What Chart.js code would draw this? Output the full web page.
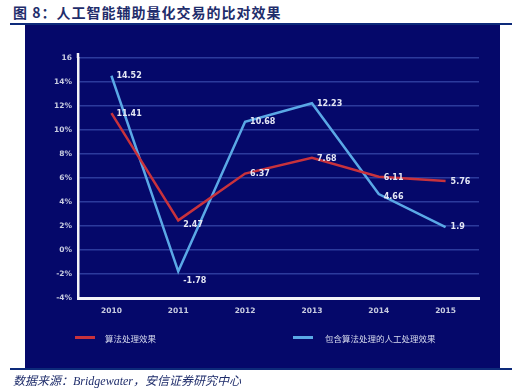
<!DOCTYPE html>
<html>
<head>
<meta charset="utf-8">
<script src="https://cdn.jsdelivr.net/npm/chart.js@4.4.0/dist/chart.umd.min.js"></script>
<style>
body{margin:0;width:532px;height:392px;background:#fff;position:relative;overflow:hidden;font-family:"Noto Sans CJK SC",sans-serif;}
#title{position:absolute;left:13px;top:2px;font-size:14px;font-weight:bold;color:#1f2d6b;letter-spacing:1px;white-space:nowrap;}
.rule{position:absolute;left:10px;width:502px;height:2px;background:#0d2a7a;}
#panel{position:absolute;left:25px;top:25px;width:475px;height:344px;background:#05086a;}
#chartBox{position:absolute;left:0;top:0;width:475px;height:344px;}
.leg{position:absolute;top:332px;font-size:8.5px;color:#d8dcef;white-space:nowrap;}
.legLine{position:absolute;top:336px;width:20px;height:3px;}
#source{position:absolute;left:13px;top:371px;font-size:12px;font-style:italic;color:#1f2d6b;font-family:"Liberation Serif","Noto Sans CJK SC",serif;white-space:nowrap;}
</style>
</head>
<body>
<div id="title">图 8：人工智能辅助量化交易的比对效果</div>
<div class="rule" style="top:23px"></div>
<div id="panel">
  <div id="chartBox"><canvas id="trendChart" width="475" height="344"></canvas></div>
</div>
<div class="legLine" style="left:75px;background:#c8323c"></div>
<div class="leg" style="left:105px">算法处理效果</div>
<div class="legLine" style="left:293px;background:#5aa8e6"></div>
<div class="leg" style="left:325px">包含算法处理的人工处理效果</div>
<div class="rule" style="top:368px"></div>
<div id="source">数据来源：Bridgewater，安信证券研究中心</div>

<script>
const years = ["2010","2011","2012","2013","2014","2015"];
const algoValues = [11.41, 2.47, 6.37, 7.68, 6.11, 5.76];
const mixedValues = [14.52, -1.78, 10.68, 12.23, 4.66, 1.9];
const yTicks = [-4, -2, 0, 2, 4, 6, 8, 10, 12, 14, 16];

// nudges for value labels (dy), so they sit like in the picture
const algoLabelDy = [1, 5, 0, 1, 1, 1];
const mixedLabelDy = [0, 10, 0, 1, 3, 0];

const labelPlugin = {
    id:"valueLabels",
    afterDatasetsDraw(chart){
        const ctx = chart.ctx;
        ctx.save();
        ctx.font = "bold 8px 'DejaVu Sans'";
        ctx.fillStyle = "#e4e7f4";
        ctx.textBaseline = "middle";
        ctx.textAlign = "left";
        const dys = [algoLabelDy, mixedLabelDy];
        chart.data.datasets.forEach((ds, i)=>{
            chart.getDatasetMeta(i).data.forEach((pt, j)=>{
                ctx.fillText(String(ds.data[j]), pt.x + 5, pt.y + dys[i][j]);
            });
        });
        ctx.restore();
    },
    afterDraw(chart){
        // y axis line pokes a bit above the top tick
        const a = chart.chartArea;
        const ctx = chart.ctx;
        ctx.save();
        ctx.strokeStyle = "#f4f4f8";
        ctx.lineWidth = 2.5;
        ctx.beginPath();
        ctx.moveTo(a.left, a.top - 5);
        ctx.lineTo(a.left, a.top);
        ctx.stroke();
        ctx.restore();
    }
};

new Chart(
    document.getElementById("trendChart"),
    {
        type:"line",
        data:{
            labels:years,
            datasets:[
                {
                    label:"算法处理效果",
                    data:algoValues,
                    borderColor:"#c8323c",
                    borderWidth:2.5,
                    pointRadius:0,
                    tension:0
                },
                {
                    label:"包含算法处理的人工处理效果",
                    data:mixedValues,
                    borderColor:"#5aa8e6",
                    borderWidth:2.5,
                    pointRadius:0,
                    tension:0
                }
            ]
        },
        options:{
            responsive:false,
            animation:false,
            layout:{padding:{left:0, right:21, top:33, bottom:0}},
            plugins:{
                legend:{display:false},
                tooltip:{enabled:false}
            },
            scales:{
                x:{
                    offset:true,
                    grid:{display:false, drawTicks:false},
                    border:{color:"#f4f4f8", width:3},
                    ticks:{
                        color:"#c8cce0",
                        font:{size:7.5, weight:"bold", family:"DejaVu Sans"},
                        padding:9
                    },
                    afterFit(scale){ scale.height = 71; }
                },
                y:{
                    min:-4,
                    max:16,
                    afterBuildTicks(scale){
                        scale.ticks = yTicks.map(v=>({value:v}));
                    },
                    grid:{
                        color:ctx => ctx.tick && ctx.tick.value === -4 ? "rgba(0,0,0,0)" : "#2c3a9c",
                        lineWidth:1.5,
                        drawTicks:false
                    },
                    border:{color:"#f4f4f8", width:2.5},
                    ticks:{
                        color:"#c8cce0",
                        font:{size:7.5, weight:"bold", family:"DejaVu Sans"},
                        padding:6,
                        callback:v => v === 16 ? "16" : v + "%"
                    },
                    afterFit(scale){ scale.width = 53; }
                }
            }
        },
        plugins:[labelPlugin]
    }
);
</script>
</body>
</html>
